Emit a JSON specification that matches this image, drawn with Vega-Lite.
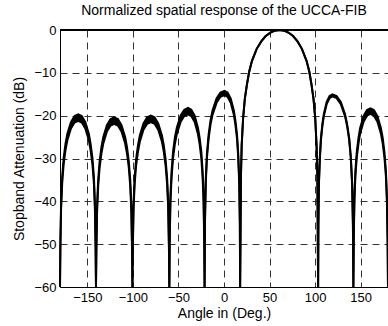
{
  "$schema": "https://vega.github.io/schema/vega-lite/v6.json",
  "width": 328,
  "height": 257,
  "autosize": {"type": "none"},
  "padding": {"left": 60, "top": 30, "right": 0, "bottom": 39},
  "background": "white",
  "title": {"text": "Normalized spatial response of the UCCA-FIB", "font": "Liberation Sans", "fontSize": 14, "fontWeight": "normal", "color": "black", "frame": "group", "anchor": "middle", "baseline": "alphabetic", "offset": -5},
  "config": {
    "view": {"stroke": null},
    "axis": {"labelFont": "Liberation Sans", "titleFont": "Liberation Sans", "labelFontSize": 13, "titleFontSize": 14, "titleFontWeight": "normal", "labelColor": "black", "titleColor": "black", "domainColor": "black", "domainWidth": 1, "ticks": false, "tickSize": 0, "grid": true, "gridDash": [7, 5], "gridColor": "#333333", "gridWidth": 1, "gridOpacity": 1, "labelFlush": false, "labelOverlap": false, "labelPadding": 4}
  },
  "data": {"values": [
    {"x": -180, "hi": -60, "lo": -60},
    {"x": -179.6, "hi": -49.7, "lo": -51.2},
    {"x": -178.8, "hi": -40.2, "lo": -41.7},
    {"x": -177.6, "hi": -34.3, "lo": -35.8},
    {"x": -176, "hi": -29.9, "lo": -31.4},
    {"x": -174, "hi": -26.6, "lo": -28.1},
    {"x": -172, "hi": -24.3, "lo": -25.8},
    {"x": -168, "hi": -21.5, "lo": -23.0},
    {"x": -164, "hi": -20.1, "lo": -21.6},
    {"x": -160, "hi": -19.7, "lo": -21.2},
    {"x": -156.1, "hi": -20.1, "lo": -21.6},
    {"x": -152.2, "hi": -21.5, "lo": -23.0},
    {"x": -148.3, "hi": -24.3, "lo": -25.8},
    {"x": -146.4, "hi": -26.6, "lo": -28.1},
    {"x": -144.4, "hi": -29.9, "lo": -31.4},
    {"x": -142.8, "hi": -34.3, "lo": -35.8},
    {"x": -141.7, "hi": -40.2, "lo": -41.7},
    {"x": -140.9, "hi": -49.7, "lo": -51.2},
    {"x": -140.5, "hi": -60, "lo": -60},
    {"x": -140.1, "hi": -50.4, "lo": -51.9},
    {"x": -139.3, "hi": -40.9, "lo": -42.4},
    {"x": -138.1, "hi": -35.0, "lo": -36.5},
    {"x": -136.5, "hi": -30.6, "lo": -32.1},
    {"x": -134.5, "hi": -27.3, "lo": -28.8},
    {"x": -132.5, "hi": -25.0, "lo": -26.5},
    {"x": -128.5, "hi": -22.2, "lo": -23.7},
    {"x": -124.5, "hi": -20.8, "lo": -22.3},
    {"x": -120.5, "hi": -20.4, "lo": -21.9},
    {"x": -116.5, "hi": -20.8, "lo": -22.3},
    {"x": -112.5, "hi": -22.2, "lo": -23.7},
    {"x": -108.5, "hi": -25.0, "lo": -26.5},
    {"x": -106.5, "hi": -27.3, "lo": -28.8},
    {"x": -104.5, "hi": -30.6, "lo": -32.1},
    {"x": -102.9, "hi": -35.0, "lo": -36.5},
    {"x": -101.7, "hi": -40.9, "lo": -42.4},
    {"x": -100.9, "hi": -50.4, "lo": -51.9},
    {"x": -100.5, "hi": -60, "lo": -60},
    {"x": -100.1, "hi": -50.0, "lo": -51.5},
    {"x": -99.3, "hi": -40.5, "lo": -42.0},
    {"x": -98.1, "hi": -34.6, "lo": -36.1},
    {"x": -96.5, "hi": -30.2, "lo": -31.7},
    {"x": -94.4, "hi": -26.9, "lo": -28.4},
    {"x": -92.4, "hi": -24.6, "lo": -26.1},
    {"x": -88.4, "hi": -21.8, "lo": -23.3},
    {"x": -84.3, "hi": -20.4, "lo": -21.9},
    {"x": -80.3, "hi": -20.0, "lo": -21.5},
    {"x": -76.2, "hi": -20.4, "lo": -21.9},
    {"x": -72.2, "hi": -21.8, "lo": -23.3},
    {"x": -68.1, "hi": -24.6, "lo": -26.1},
    {"x": -66.1, "hi": -26.9, "lo": -28.4},
    {"x": -64.1, "hi": -30.2, "lo": -31.7},
    {"x": -62.4, "hi": -34.6, "lo": -36.1},
    {"x": -61.2, "hi": -40.5, "lo": -42.0},
    {"x": -60.4, "hi": -50.0, "lo": -51.5},
    {"x": -60, "hi": -60, "lo": -60},
    {"x": -59.6, "hi": -48.2, "lo": -49.7},
    {"x": -58.8, "hi": -38.7, "lo": -40.2},
    {"x": -57.5, "hi": -32.8, "lo": -34.3},
    {"x": -55.9, "hi": -28.4, "lo": -29.9},
    {"x": -53.9, "hi": -25.1, "lo": -26.6},
    {"x": -51.8, "hi": -22.8, "lo": -24.3},
    {"x": -47.7, "hi": -20.0, "lo": -21.5},
    {"x": -43.6, "hi": -18.6, "lo": -20.1},
    {"x": -39.5, "hi": -18.2, "lo": -19.7},
    {"x": -35.9, "hi": -18.6, "lo": -20.1},
    {"x": -32.2, "hi": -20.0, "lo": -21.5},
    {"x": -28.6, "hi": -22.8, "lo": -24.3},
    {"x": -26.8, "hi": -25.1, "lo": -26.6},
    {"x": -24.9, "hi": -28.4, "lo": -29.9},
    {"x": -23.5, "hi": -32.8, "lo": -34.3},
    {"x": -22.4, "hi": -38.7, "lo": -40.2},
    {"x": -21.7, "hi": -48.2, "lo": -49.7},
    {"x": -21.3, "hi": -60, "lo": -60},
    {"x": -20.9, "hi": -44.2, "lo": -45.2},
    {"x": -20.0, "hi": -34.7, "lo": -35.7},
    {"x": -18.7, "hi": -28.8, "lo": -29.8},
    {"x": -16.9, "hi": -24.4, "lo": -25.4},
    {"x": -14.8, "hi": -21.1, "lo": -22.1},
    {"x": -12.6, "hi": -18.8, "lo": -19.8},
    {"x": -8.2, "hi": -16.0, "lo": -17.0},
    {"x": -3.9, "hi": -14.6, "lo": -15.6},
    {"x": 0.5, "hi": -14.2, "lo": -15.2},
    {"x": 3.9, "hi": -14.6, "lo": -15.6},
    {"x": 7.4, "hi": -16.0, "lo": -17.0},
    {"x": 10.8, "hi": -18.8, "lo": -19.8},
    {"x": 12.5, "hi": -21.1, "lo": -22.1},
    {"x": 14.3, "hi": -24.4, "lo": -25.4},
    {"x": 15.6, "hi": -28.8, "lo": -29.8},
    {"x": 16.7, "hi": -34.7, "lo": -35.7},
    {"x": 17.4, "hi": -44.2, "lo": -45.2},
    {"x": 17.7, "hi": -60, "lo": -60},
    {"x": 18.6, "hi": -34, "lo": -34},
    {"x": 19.4, "hi": -27, "lo": -27},
    {"x": 21.0, "hi": -20.5, "lo": -20.5},
    {"x": 22.9, "hi": -16, "lo": -16},
    {"x": 25.1, "hi": -12.8, "lo": -12.8},
    {"x": 27.7, "hi": -9.7, "lo": -9.7},
    {"x": 30.7, "hi": -7.2, "lo": -7.2},
    {"x": 35.9, "hi": -4.4, "lo": -4.4},
    {"x": 41.1, "hi": -2.6, "lo": -2.6},
    {"x": 45.8, "hi": -1.4, "lo": -1.4},
    {"x": 51.0, "hi": -0.6, "lo": -0.6},
    {"x": 55.8, "hi": -0.15, "lo": -0.15},
    {"x": 61, "hi": 0, "lo": 0},
    {"x": 66.1, "hi": -0.15, "lo": -0.15},
    {"x": 70.7, "hi": -0.6, "lo": -0.6},
    {"x": 75.8, "hi": -1.4, "lo": -1.4},
    {"x": 80.5, "hi": -2.6, "lo": -2.6},
    {"x": 85.5, "hi": -4.4, "lo": -4.4},
    {"x": 90.6, "hi": -7.2, "lo": -7.2},
    {"x": 93.6, "hi": -9.7, "lo": -9.7},
    {"x": 96.1, "hi": -12.8, "lo": -12.8},
    {"x": 98.2, "hi": -16, "lo": -16},
    {"x": 100.1, "hi": -20.5, "lo": -20.5},
    {"x": 101.6, "hi": -27, "lo": -27},
    {"x": 102.5, "hi": -34, "lo": -34},
    {"x": 103.3, "hi": -60, "lo": -60},
    {"x": 103.6, "hi": -45.0, "lo": -45.5},
    {"x": 104.2, "hi": -35.5, "lo": -36.0},
    {"x": 105.2, "hi": -29.6, "lo": -30.1},
    {"x": 106.4, "hi": -25.2, "lo": -25.7},
    {"x": 108.0, "hi": -21.9, "lo": -22.4},
    {"x": 109.6, "hi": -19.6, "lo": -20.1},
    {"x": 112.7, "hi": -16.8, "lo": -17.3},
    {"x": 115.9, "hi": -15.4, "lo": -15.9},
    {"x": 119, "hi": -15.0, "lo": -15.5},
    {"x": 123.6, "hi": -15.4, "lo": -15.9},
    {"x": 128.2, "hi": -16.8, "lo": -17.3},
    {"x": 132.8, "hi": -19.6, "lo": -20.1},
    {"x": 135.1, "hi": -21.9, "lo": -22.4},
    {"x": 137.4, "hi": -25.2, "lo": -25.7},
    {"x": 139.2, "hi": -29.6, "lo": -30.1},
    {"x": 140.6, "hi": -35.5, "lo": -36.0},
    {"x": 141.5, "hi": -45.0, "lo": -45.5},
    {"x": 142, "hi": -60, "lo": -60},
    {"x": 142.4, "hi": -48.3, "lo": -49.6},
    {"x": 143.1, "hi": -38.8, "lo": -40.1},
    {"x": 144.2, "hi": -32.9, "lo": -34.2},
    {"x": 145.7, "hi": -28.5, "lo": -29.8},
    {"x": 147.6, "hi": -25.2, "lo": -26.5},
    {"x": 149.4, "hi": -22.9, "lo": -24.2},
    {"x": 153.2, "hi": -20.1, "lo": -21.4},
    {"x": 156.9, "hi": -18.7, "lo": -20.0},
    {"x": 160.6, "hi": -18.3, "lo": -19.6},
    {"x": 164.5, "hi": -18.7, "lo": -20.0},
    {"x": 168.4, "hi": -20.1, "lo": -21.4},
    {"x": 172.2, "hi": -22.9, "lo": -24.2},
    {"x": 174.2, "hi": -25.2, "lo": -26.5},
    {"x": 176.1, "hi": -28.5, "lo": -29.8},
    {"x": 177.7, "hi": -32.9, "lo": -34.2},
    {"x": 178.8, "hi": -38.8, "lo": -40.1},
    {"x": 179.6, "hi": -48.3, "lo": -49.6},
    {"x": 180, "hi": -60, "lo": -60}
  ]},
  "encoding": {
    "x": {"field": "x", "type": "quantitative", "scale": {"domain": [-180, 180], "nice": false, "zero": false}, "axis": {"title": "Angle in (Deg.)", "values": [-150, -100, -50, 0, 50, 100, 150], "titlePadding": 2}}
  },
  "layer": [
    {
      "mark": {"type": "area", "color": "black", "opacity": 1},
      "encoding": {
        "y": {"field": "hi", "type": "quantitative", "scale": {"domain": [-60, 0], "nice": false, "zero": false}, "axis": {"title": "Stopband Attenuation (dB)", "values": [-60, -50, -40, -30, -20, -10, 0], "titlePadding": 7}},
        "y2": {"field": "lo"}
      }
    },
    {
      "mark": {"type": "line", "color": "black", "strokeWidth": 2},
      "encoding": {"y": {"field": "hi", "type": "quantitative"}}
    },
    {
      "mark": {"type": "line", "color": "black", "strokeWidth": 2},
      "encoding": {"y": {"field": "lo", "type": "quantitative"}}
    },
    {
      "mark": {"type": "rule", "color": "black", "strokeWidth": 1},
      "encoding": {"y": {"datum": 0}, "x": {"value": 0}, "x2": {"value": 328}}
    }
  ]
}
